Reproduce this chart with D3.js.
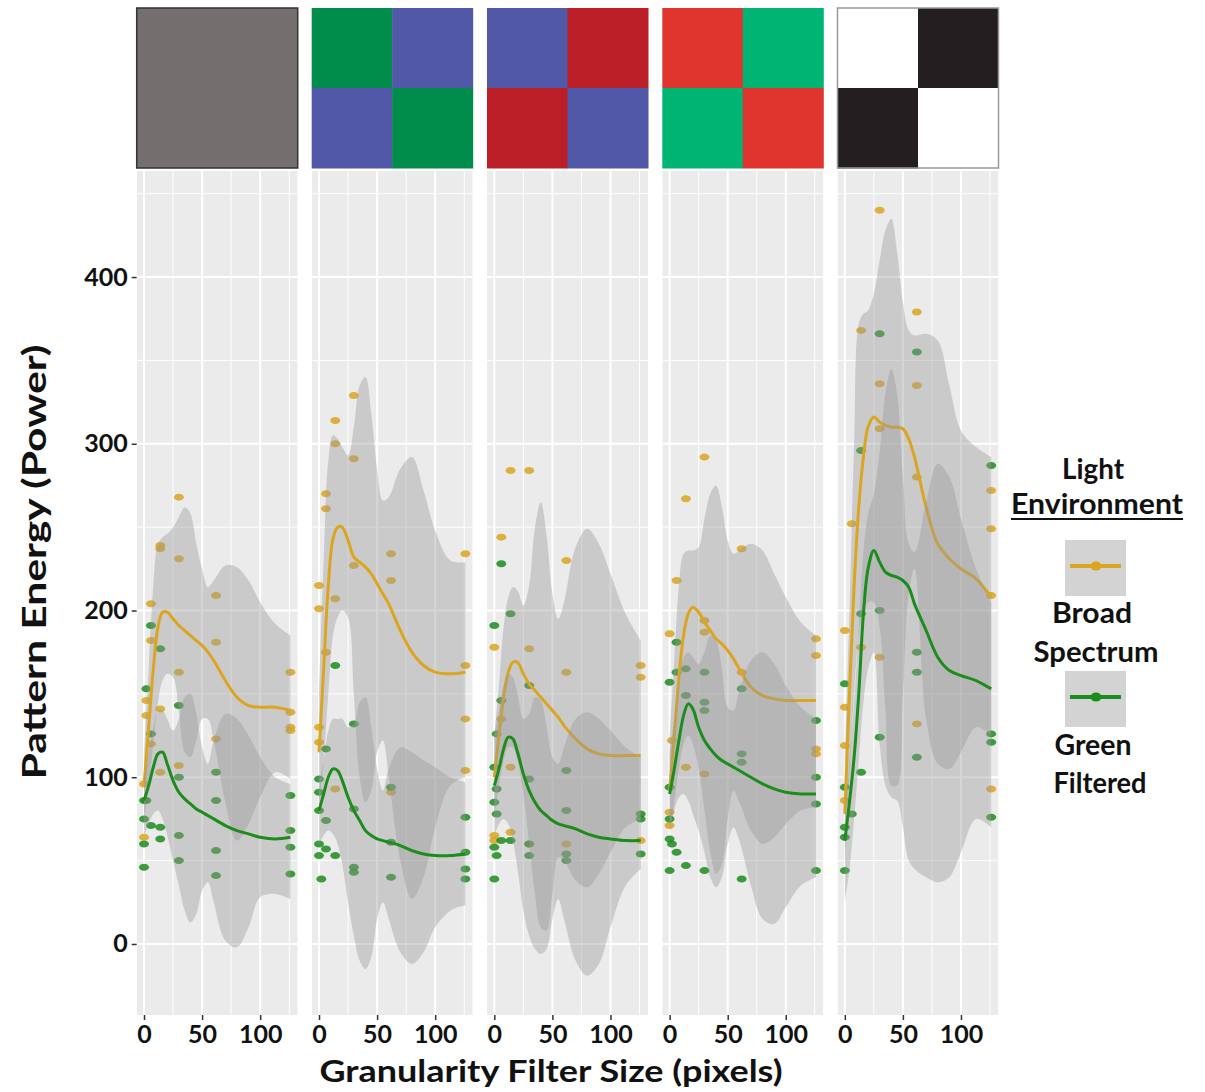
<!DOCTYPE html>
<html>
<head>
<meta charset="utf-8">
<script src="https://cdn.jsdelivr.net/npm/d3@7"></script>
<style>
  body { margin: 0; background: #fff; }
  text { font-family: Lato, "Open Sans", sans-serif; }
</style>
</head>
<body>
<svg id="chart" width="1205" height="1092"></svg>
<script>
// ---- data ----
// x positions (filter size) where the smooth fits / ribbons are read off
const knots = [0, 4, 8, 12, 16, 20, 25, 30, 35, 40, 45, 50, 55, 60, 70, 80, 90, 100, 113, 126];

// Broad Spectrum: fitted line and confidence band, one row per pattern panel
const broadFit = [
  [95, 130, 165, 190, 199, 199, 195, 191, 188, 185, 182, 179, 175, 170, 158, 148, 143, 142, 142, 140],
  [115, 165, 215, 243, 250, 250, 242, 232, 229, 226, 222, 216, 210, 204, 188, 175, 167, 163, 162, 163],
  [100, 125, 148, 163, 169, 169, 162, 156, 152, 148, 144, 140, 136, 131, 123, 117, 114, 113, 113, 113],
  [92, 125, 160, 185, 198, 202, 199, 193, 188, 183, 180, 176, 171, 165, 154, 149, 147, 146, 146, 146],
  [78, 150, 215, 262, 292, 310, 316, 313, 311, 310, 310, 309, 303, 292, 262, 240, 231, 225, 219, 208]
];
const broadHi = [
  [115, 165, 215, 240, 244, 246, 250, 256, 262, 258, 240, 225, 214, 218, 227, 226, 218, 205, 192, 185],
  [150, 230, 290, 305, 303, 298, 293, 310, 335, 340, 318, 285, 266, 268, 285, 292, 272, 248, 230, 229],
  [125, 155, 190, 208, 214, 212, 203, 215, 250, 265, 245, 210, 195, 205, 238, 249, 240, 222, 198, 182],
  [125, 170, 215, 234, 236, 236, 238, 255, 270, 275, 262, 242, 234, 236, 240, 236, 222, 208, 193, 185],
  [110, 200, 300, 372, 378, 380, 390, 410, 428, 435, 415, 385, 368, 365, 366, 362, 335, 308, 298, 292]
];
const broadLo = [
  [75, 95, 120, 145, 158, 162, 160, 140, 115, 112, 122, 135, 135, 122, 85, 62, 72, 88, 103, 99],
  [80, 110, 150, 185, 196, 200, 196, 150, 100, 85, 92, 115, 122, 100, 50, 27, 40, 70, 95, 100],
  [75, 95, 110, 118, 118, 110, 90, 60, 30, 10, 8, 30, 52, 50, 38, 34, 42, 55, 70, 75],
  [65, 85, 105, 120, 125, 120, 105, 80, 55, 42, 48, 75, 92, 85, 68, 60, 64, 72, 80, 82],
  [50, 100, 150, 185, 200, 205, 205, 190, 140, 95, 95, 150, 210, 225, 135, 108, 105, 115, 130, 125]
];

// Green Filtered
const greenFit = [
  [86, 95, 106, 114, 115, 108, 98, 91, 87, 84, 81, 79, 77, 75, 71, 68, 66, 64, 63, 64],
  [80, 90, 100, 105, 104, 98, 88, 80, 74, 68, 65, 63, 62, 61, 59, 56, 54, 53, 53, 54],
  [95, 105, 117, 124, 123, 115, 102, 92, 85, 80, 77, 74, 72, 71, 69, 66, 64, 63, 62, 62],
  [90, 105, 122, 137, 144, 141, 130, 122, 117, 113, 110, 108, 106, 104, 100, 96, 93, 91, 90, 90],
  [62, 85, 112, 150, 198, 225, 236, 229, 223, 221, 220, 218, 214, 204, 188, 172, 164, 161, 158, 153]
];
const greenHi = [
  [100, 115, 130, 140, 140, 135, 128, 135, 148, 150, 138, 118, 108, 122, 138, 135, 125, 112, 100, 96],
  [95, 110, 128, 135, 135, 135, 130, 132, 145, 148, 130, 105, 92, 105, 118, 115, 110, 106, 100, 97],
  [125, 140, 155, 162, 160, 150, 135, 138, 148, 146, 130, 112, 108, 118, 135, 139, 135, 128, 118, 112],
  [115, 135, 158, 172, 175, 172, 168, 175, 185, 182, 165, 142, 140, 152, 170, 175, 168, 155, 142, 135],
  [78, 110, 145, 190, 235, 258, 270, 295, 330, 345, 330, 280, 240, 235, 265, 288, 280, 255, 225, 205]
];
const greenLo = [
  [65, 72, 78, 80, 75, 65, 50, 35, 20, 13, 18, 32, 37, 25, 2, -2, 10, 28, 30, 27],
  [60, 65, 68, 66, 60, 48, 25, 5, -10, -15, -8, 15, 25, 15, -5, -12, -5, 10, 20, 23],
  [65, 72, 75, 72, 62, 45, 20, 5, -3, -6, -3, 15, 27, 15, -10, -19, -12, 10, 35, 45],
  [70, 80, 88, 90, 86, 78, 68, 55, 40, 34, 40, 60, 70, 62, 35, 15, 12, 22, 35, 40],
  [25, 45, 75, 110, 145, 165, 175, 120, 95, 88, 86, 70, 50, 45, 40, 37, 40, 55, 75, 70]
];

// raw measurements [filter size, energy]
const broadPoints = [
  [[0, 96], [0, 64], [2, 146], [2, 137], [6, 204], [6, 182], [6, 120], [14, 239], [14, 237], [14, 141], [14, 103],
   [30, 268], [30, 231], [30, 163], [30, 107], [62, 209], [62, 181], [62, 123], [126, 163], [126, 139], [126, 130], [126, 128]],
  [[0, 215], [0, 201], [0, 130], [0, 121], [6, 270], [6, 261], [6, 175], [14, 314], [14, 300], [14, 207], [14, 93],
   [30, 329], [30, 291], [30, 227], [62, 234], [62, 218], [62, 91], [126, 234], [126, 167], [126, 135], [126, 104]],
  [[0, 178], [0, 65], [0, 62], [6, 244], [6, 135], [14, 284], [14, 106], [14, 67], [30, 284], [30, 177], [30, 60],
   [62, 230], [62, 163], [62, 60], [126, 167], [126, 160], [126, 62]],
  [[0, 186], [0, 79], [0, 71], [2, 122], [6, 218], [14, 267], [14, 106], [30, 292], [30, 194], [30, 187], [30, 102],
   [62, 237], [62, 163], [126, 183], [126, 173], [126, 117], [126, 114]],
  [[0, 188], [0, 142], [0, 119], [0, 86], [6, 252], [14, 368], [14, 178], [30, 440], [30, 336], [30, 309], [30, 172],
   [62, 379], [62, 335], [62, 280], [62, 132], [126, 272], [126, 249], [126, 209], [126, 93]]
];
const greenPoints = [
  [[0, 86], [0, 75], [0, 60], [0, 46], [2, 153], [2, 86], [6, 191], [6, 126], [6, 71], [14, 177], [14, 70], [14, 63],
   [30, 143], [30, 100], [30, 65], [30, 50], [62, 103], [62, 86], [62, 56], [62, 41], [126, 89], [126, 68], [126, 58], [126, 42]],
  [[0, 99], [0, 91], [0, 80], [0, 60], [0, 53], [2, 39], [6, 117], [6, 74], [6, 57], [14, 167], [14, 53],
   [30, 132], [30, 81], [30, 46], [30, 43], [62, 94], [62, 61], [62, 40], [126, 76], [126, 55], [126, 45], [126, 39]],
  [[0, 191], [0, 106], [0, 85], [0, 58], [0, 39], [2, 126], [2, 93], [2, 78], [2, 53], [6, 228], [6, 146], [6, 62],
   [14, 198], [14, 62], [30, 155], [30, 99], [30, 60], [30, 53], [62, 104], [62, 80], [62, 54], [62, 50], [126, 78], [126, 75], [126, 54]],
  [[0, 157], [0, 94], [0, 75], [0, 63], [0, 44], [2, 60], [6, 181], [6, 163], [6, 55], [14, 165], [14, 149], [14, 47],
   [30, 163], [30, 145], [30, 140], [30, 44], [62, 153], [62, 114], [62, 109], [62, 39], [126, 134], [126, 100], [126, 84], [126, 44]],
  [[0, 156], [0, 94], [0, 70], [0, 64], [0, 44], [6, 78], [14, 296], [14, 198], [14, 103], [30, 366], [30, 200], [30, 124],
   [62, 355], [62, 175], [62, 163], [62, 112], [126, 287], [126, 126], [126, 121], [126, 76]]
];

// colour patterns shown above each panel (quadrants TL, TR, BL, BR; one entry = plain)
const patterns = [
  ['#756e6e'],
  ['#008c4a', '#5158a7', '#5158a7', '#008c4a'],
  ['#5158a7', '#bc1e27', '#bc1e27', '#5158a7'],
  ['#e0352f', '#00b574', '#00b574', '#e0352f'],
  ['#ffffff', '#231f20', '#231f20', '#ffffff']
];

const yTicks = [0, 100, 200, 300, 400];
const xTicks = [0, 50, 100];

// ---- layout ----
const svg = d3.select('#chart');
const panelLeft = [136.7, 311.7, 487, 662.3, 837.5];
const panelW = 161;
const panelTop = 171, panelBottom = 1015;
const orange = '#dba51f', green = '#1c8c1c';

const x = d3.scaleLinear().domain([-6.3, 132.3]).range([0, panelW]);
const y = d3.scaleLinear().domain([-42.6, 463.6]).range([panelBottom, panelTop]);

const line = d3.line()
  .x((d, i) => x(knots[i]))
  .y((d) => y(d))
  .curve(d3.curveCatmullRom);

const band = (lo, hi) => d3.area()
  .x((d) => x(d))
  .y0((d, i) => y(lo[i]))
  .y1((d, i) => y(hi[i]))
  .curve(d3.curveCatmullRom)(knots);

panelLeft.forEach((left, p) => {
  const g = svg.append('g').attr('transform', `translate(${left},0)`);

  // pattern square above the panel
  const sq = g.append('g').attr('transform', 'translate(0,8)');
  const half = 80;
  if (patterns[p].length === 1) {
    sq.append('rect').attr('width', panelW).attr('height', half * 2).attr('fill', patterns[p][0]);
  } else {
    patterns[p].forEach((c, k) => {
      sq.append('rect')
        .attr('x', (k % 2) * (panelW / 2))
        .attr('y', Math.floor(k / 2) * half)
        .attr('width', panelW / 2 + 0.5)
        .attr('height', half + 0.5)
        .attr('fill', c);
    });
  }
  if (p === 0 || p === 4) {
    sq.append('rect')
      .attr('width', panelW).attr('height', half * 2)
      .attr('fill', 'none')
      .attr('stroke', p === 0 ? '#333' : '#999')
      .attr('stroke-width', 1.5);
  }

  // clip + background
  g.append('clipPath').attr('id', 'clip' + p)
    .append('rect').attr('x', 0).attr('y', panelTop).attr('width', panelW).attr('height', panelBottom - panelTop);
  const body = g.append('g').attr('clip-path', `url(#clip${p})`);

  body.append('rect')
    .attr('x', 0).attr('y', panelTop)
    .attr('width', panelW).attr('height', panelBottom - panelTop)
    .attr('fill', '#ebebeb');

  // grid
  [25, 75, 125].forEach((v) => body.append('line')
    .attr('x1', x(v)).attr('x2', x(v)).attr('y1', panelTop).attr('y2', panelBottom)
    .attr('stroke', '#fff').attr('stroke-width', 1));
  [50, 150, 250, 350, 450].forEach((v) => body.append('line')
    .attr('x1', 0).attr('x2', panelW).attr('y1', y(v)).attr('y2', y(v))
    .attr('stroke', '#fff').attr('stroke-width', 1));
  xTicks.forEach((v) => body.append('line')
    .attr('x1', x(v)).attr('x2', x(v)).attr('y1', panelTop).attr('y2', panelBottom)
    .attr('stroke', '#fff').attr('stroke-width', 2));
  yTicks.forEach((v) => body.append('line')
    .attr('x1', 0).attr('x2', panelW).attr('y1', y(v)).attr('y2', y(v))
    .attr('stroke', '#fff').attr('stroke-width', 2));

  // points (drawn under the smooths, as in the original)
  body.selectAll('.pb').data(broadPoints[p]).enter().append('ellipse')
    .attr('cx', (d) => x(d[0])).attr('cy', (d) => y(d[1]))
    .attr('rx', 5).attr('ry', 3.5)
    .attr('fill', orange).attr('opacity', 0.85);
  body.selectAll('.pg').data(greenPoints[p]).enter().append('ellipse')
    .attr('cx', (d) => x(d[0])).attr('cy', (d) => y(d[1]))
    .attr('rx', 5).attr('ry', 3.5)
    .attr('fill', green).attr('opacity', 0.85);

  // smooths
  body.append('path').attr('d', band(broadLo[p], broadHi[p]))
    .attr('fill', '#999').attr('opacity', 0.4);
  body.append('path').attr('d', line(broadFit[p]))
    .attr('fill', 'none').attr('stroke', orange).attr('stroke-width', 3);
  body.append('path').attr('d', band(greenLo[p], greenHi[p]))
    .attr('fill', '#999').attr('opacity', 0.4);
  body.append('path').attr('d', line(greenFit[p]))
    .attr('fill', 'none').attr('stroke', green).attr('stroke-width', 3);

  // x axis
  const ax = g.append('g')
    .attr('transform', `translate(0,${panelBottom})`)
    .call(d3.axisBottom(x).tickValues(xTicks).tickSize(5).tickPadding(5));
  ax.select('.domain').remove();
  ax.selectAll('line').attr('stroke', '#333').attr('stroke-width', 1.5);
  ax.selectAll('text')
    .attr('font-size', 25).attr('font-weight', 'bold').attr('fill', '#111')
    .style('font-family', 'Lato, sans-serif');
});

// y axis
const ay = svg.append('g')
  .attr('transform', `translate(${panelLeft[0]},0)`)
  .call(d3.axisLeft(y).tickValues(yTicks).tickSize(5).tickPadding(4));
ay.select('.domain').remove();
ay.selectAll('line').attr('stroke', '#333').attr('stroke-width', 1.5);
ay.selectAll('text')
  .attr('font-size', 25).attr('font-weight', 'bold').attr('fill', '#111')
  .style('font-family', 'Lato, sans-serif');

// axis titles
svg.append('text')
  .attr('x', 551).attr('y', 1082)
  .attr('text-anchor', 'middle')
  .attr('font-size', 30).attr('font-weight', 'bold').attr('fill', '#111')
  .attr('textLength', 463).attr('lengthAdjust', 'spacingAndGlyphs')
  .text('Granularity Filter Size (pixels)');

svg.append('text')
  .attr('transform', 'translate(46,562) rotate(-90)')
  .attr('text-anchor', 'middle')
  .attr('font-size', 33).attr('font-weight', 'bold').attr('fill', '#111')
  .attr('textLength', 435).attr('lengthAdjust', 'spacingAndGlyphs')
  .text('Pattern Energy (Power)');

// legend
const legendText = [
  { t: 'Light', x: 1093, y: 479, w: 62 },
  { t: 'Environment', x: 1097, y: 514, w: 172 },
  { t: 'Broad', x: 1092, y: 623, w: 80 },
  { t: 'Spectrum', x: 1096, y: 662, w: 125 },
  { t: 'Green', x: 1093, y: 755, w: 77 },
  { t: 'Filtered', x: 1100, y: 793, w: 93 }
];
legendText.forEach((d) => svg.append('text')
  .attr('x', d.x).attr('y', d.y)
  .attr('text-anchor', 'middle')
  .attr('font-size', 29).attr('font-weight', 'bold').attr('fill', '#111')
  .attr('textLength', d.w).attr('lengthAdjust', 'spacingAndGlyphs')
  .text(d.t));
svg.append('line')
  .attr('x1', 1011).attr('x2', 1183).attr('y1', 519).attr('y2', 519)
  .attr('stroke', '#111').attr('stroke-width', 2);

[{ c: orange, y: 540 }, { c: green, y: 671 }].forEach((k) => {
  svg.append('rect')
    .attr('x', 1065).attr('y', k.y).attr('width', 61).attr('height', 56)
    .attr('fill', '#d3d3d3');
  svg.append('line')
    .attr('x1', 1070).attr('x2', 1121).attr('y1', k.y + 26).attr('y2', k.y + 26)
    .attr('stroke', k.c).attr('stroke-width', 4);
  svg.append('ellipse')
    .attr('cx', 1096).attr('cy', k.y + 26).attr('rx', 5.5).attr('ry', 4.5)
    .attr('fill', k.c);
});
</script>
</body>
</html>
